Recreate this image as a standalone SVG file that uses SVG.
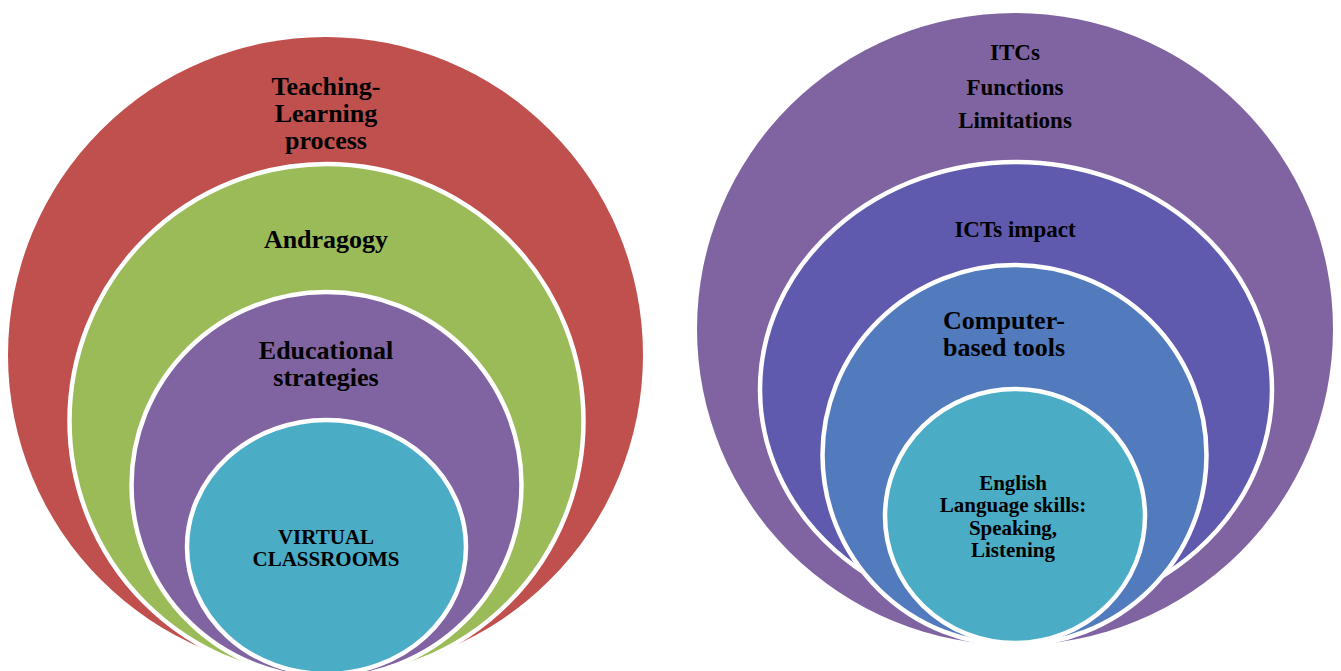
<svg xmlns="http://www.w3.org/2000/svg" width="1341" height="671" viewBox="0 0 1341 671">
<style>
.ring{stroke:#ffffff;stroke-width:4.5}
.outer{stroke:none}
text{font-family:"Liberation Serif","Times New Roman",serif;font-weight:bold;fill:#000;text-anchor:middle}
.l{font-size:26px}
.m{font-size:23px}
.s{font-size:21px}
</style>
<rect width="1341" height="671" fill="#ffffff"/>
<g id="left-set">
<g id="teaching-learning">
<ellipse class="outer" cx="325.5" cy="355" rx="317.5" ry="318" fill="#c0504d"/>
<text class="l" x="326" y="95">Teaching-</text>
<text class="l" x="326" y="122">Learning</text>
<text class="l" x="326" y="149">process</text>
</g>
<g id="andragogy">
<ellipse class="ring" cx="326.5" cy="421" rx="257" ry="257" fill="#9bbb59"/>
<text class="l" x="326" y="248">Andragogy</text>
</g>
<g id="educational-strategies">
<ellipse class="ring" cx="326.5" cy="485" rx="195" ry="193" fill="#8064a2"/>
<text class="l" x="326" y="359">Educational</text>
<text class="l" x="326" y="386">strategies</text>
</g>
<g id="virtual-classrooms">
<ellipse class="ring" cx="326.5" cy="547" rx="139.5" ry="127" fill="#4bacc6"/>
<text class="s" x="326" y="544">VIRTUAL</text>
<text class="s" x="326" y="566">CLASSROOMS</text>
</g>
</g>
<g id="right-set">
<g id="itcs">
<ellipse class="outer" cx="1015" cy="329" rx="318" ry="316" fill="#8064a2"/>
<text class="m" x="1015" y="60">ITCs</text>
<text class="m" x="1015" y="95">Functions</text>
<text class="m" x="1015" y="128">Limitations</text>
</g>
<g id="icts-impact">
<ellipse class="ring" cx="1016" cy="389.5" rx="256" ry="227.5" fill="#5f5aad"/>
<text class="m" x="1015" y="237">ICTs impact</text>
</g>
<g id="computer-based-tools">
<ellipse class="ring" cx="1014.5" cy="455" rx="192" ry="190" fill="#517bbd"/>
<text class="l" x="1004" y="329">Computer-</text>
<text class="l" x="1004" y="356">based tools</text>
</g>
<g id="english-skills">
<ellipse class="ring" cx="1015" cy="516" rx="130" ry="127" fill="#4bacc6"/>
<text class="s" x="1013" y="490">English</text>
<text class="s" x="1013" y="512">Language skills:</text>
<text class="s" x="1013" y="535">Speaking,</text>
<text class="s" x="1013" y="557">Listening</text>
</g>
</g>
<g id="connectors"></g>
</svg>
